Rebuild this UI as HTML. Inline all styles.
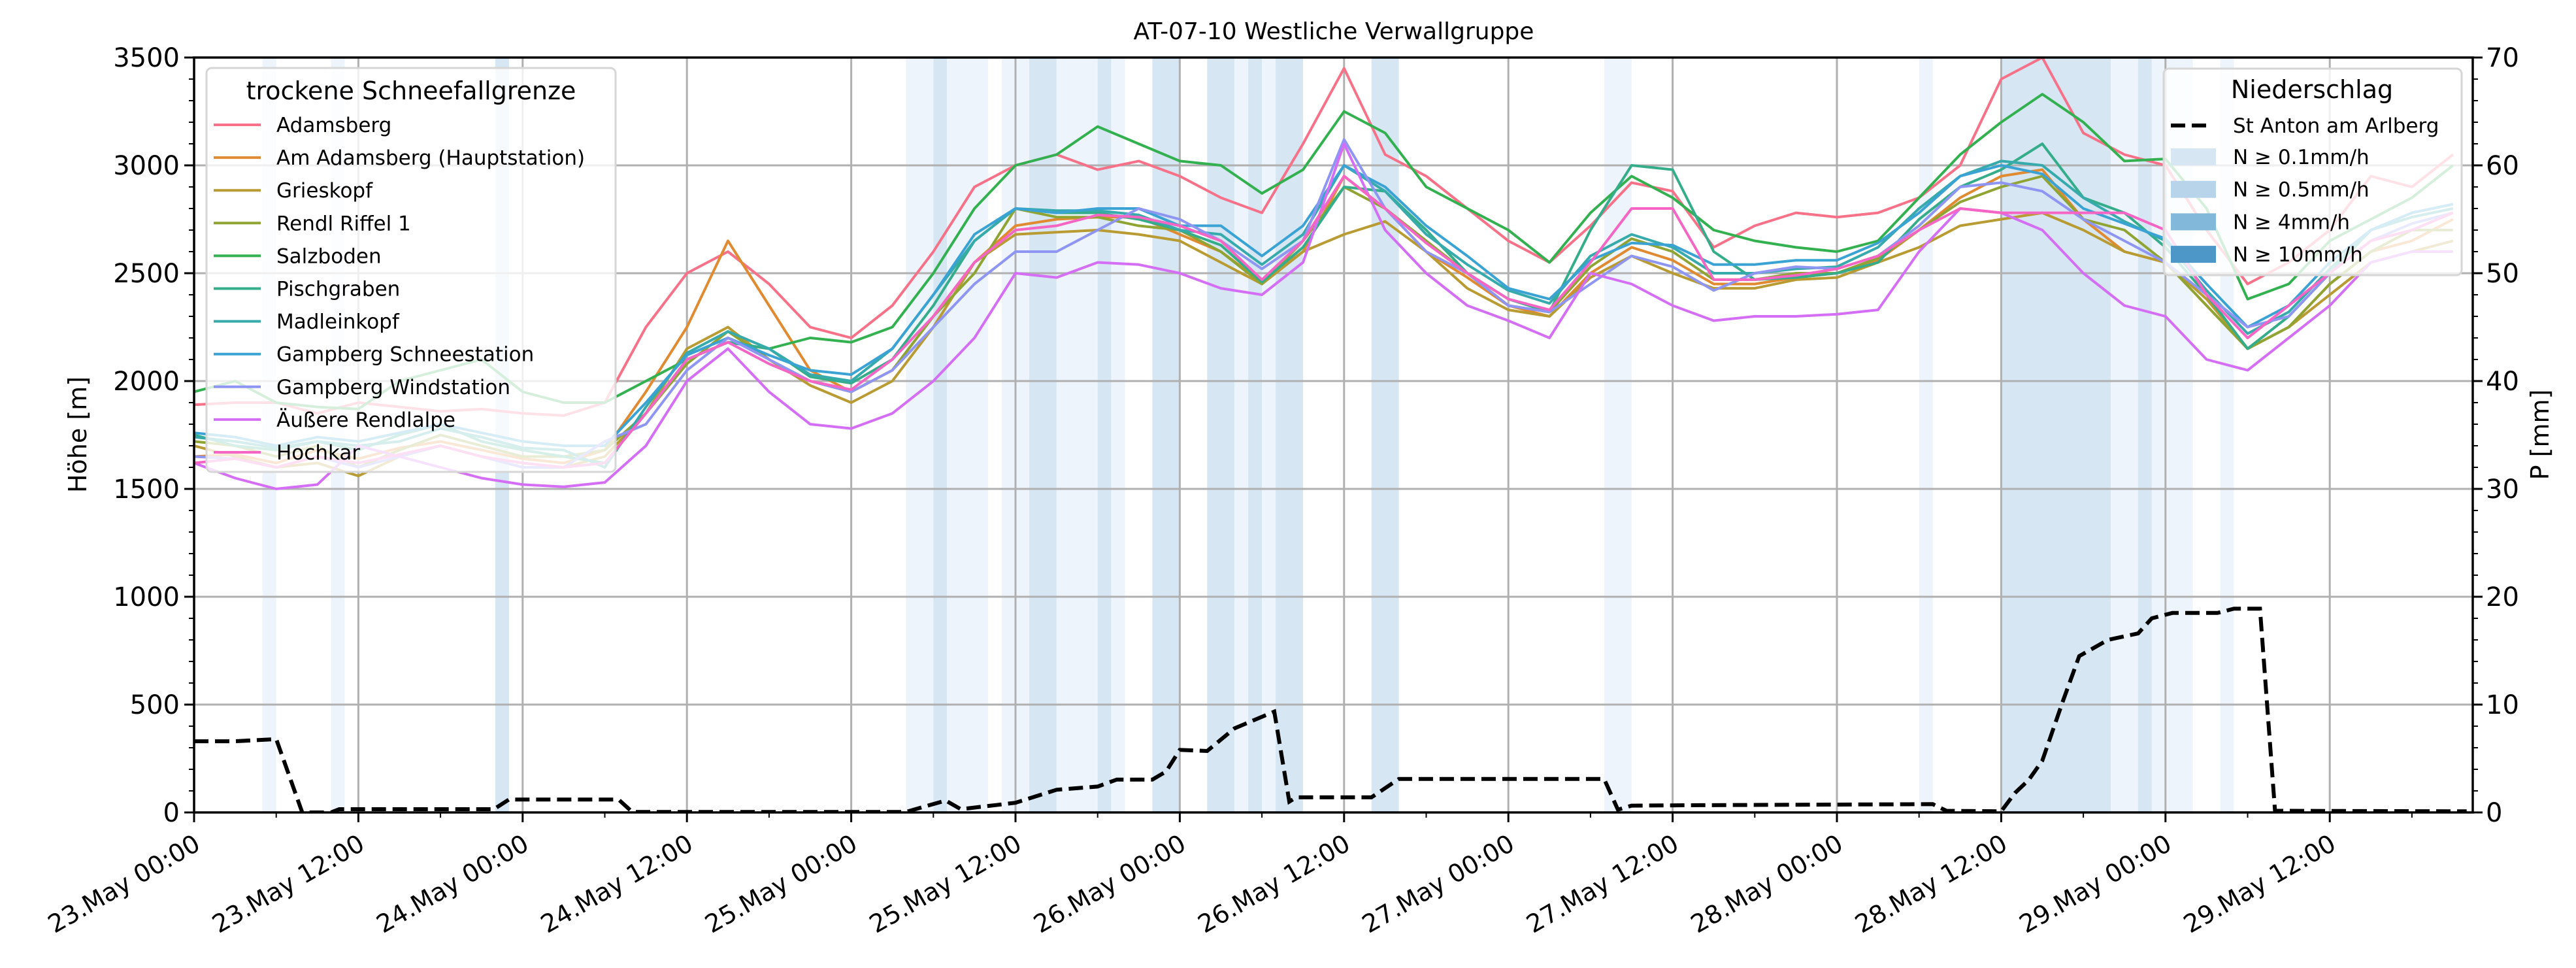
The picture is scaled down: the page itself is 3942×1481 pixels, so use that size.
<!DOCTYPE html>
<html><head><meta charset="utf-8"><style>
html,body{margin:0;padding:0;background:#fff;}
svg{display:block;font-family:"DejaVu Sans","Liberation Sans",sans-serif;}
</style></head><body>
<svg id="chart" width="3942" height="1481" viewBox="0 0 3942 1481" xmlns="http://www.w3.org/2000/svg">
<defs><clipPath id="plotclip"><rect x="297" y="88" width="3487" height="1155"/></clipPath></defs>
<rect x="0" y="0" width="3942" height="1481" fill="#fff"/>
<g id="bands" clip-path="url(#plotclip)"></g>
<g id="grid"></g>
<g id="series" clip-path="url(#plotclip)"></g>
<g id="precip" clip-path="url(#plotclip)"></g>
<g id="axes"></g>
<text x="2041" y="60" font-size="36" text-anchor="middle">AT-07-10 Westliche Verwallgruppe</text>
<text x="0" y="0" font-size="38" text-anchor="middle" transform="translate(132,665) rotate(-90)">Höhe [m]</text>
<text x="0" y="0" font-size="38" text-anchor="middle" transform="translate(3900,665) rotate(-90)">P [mm]</text>
<g id="legend1"></g>
<g id="legend2"></g>
</svg>
<script>
const hours = [];
for (let h = 0; h <= 165; h += 3) hours.push(h);
const stationNames = ["Adamsberg","Am Adamsberg (Hauptstation)","Grieskopf","Rendl Riffel 1","Salzboden","Pischgraben","Madleinkopf","Gampberg Schneestation","Gampberg Windstation","Äußere Rendlalpe","Hochkar"];
const stationColors = ["#f77189","#e08a31","#b89b32","#90a434","#33b04f","#35ad8a","#37aaab","#3ba3d3","#8f95f2","#d46ff5","#f565c4"];
const adamsberg = [1890,1900,1900,1850,1900,1880,1860,1870,1850,1840,1900,2250,2500,2600,2450,2250,2200,2350,2600,2900,3000,3050,2980,3020,2950,2850,2780,3100,3450,3050,2950,2800,2650,2550,2720,2920,2880,2620,2720,2780,2760,2780,2850,3000,3400,3500,3150,3050,3000,2700,2450,2550,2700,2950,2900,3050];
const amAdamsberg = [1650,1660,1620,1680,1640,1690,1720,1680,1640,1620,1680,1950,2250,2650,2350,2050,1950,2050,2300,2550,2720,2750,2760,2760,2680,2600,2460,2600,2950,2800,2600,2480,2350,2300,2500,2620,2560,2450,2450,2480,2500,2560,2700,2850,2950,2980,2750,2600,2550,2350,2150,2250,2450,2600,2650,2750];
const grieskopf = [1700,1650,1600,1620,1560,1650,1700,1650,1600,1600,1650,1850,2150,2250,2100,1980,1900,2000,2250,2550,2680,2690,2700,2680,2650,2550,2450,2600,2680,2740,2600,2430,2330,2300,2480,2580,2500,2430,2430,2470,2480,2550,2620,2720,2750,2780,2700,2600,2550,2380,2150,2250,2400,2550,2600,2650];
const rendlRiffel = [1720,1700,1650,1700,1600,1680,1750,1700,1650,1650,1680,1850,2080,2230,2100,2000,1950,2050,2300,2500,2800,2760,2760,2720,2700,2600,2450,2650,2900,2800,2650,2500,2350,2320,2530,2660,2600,2470,2470,2500,2500,2570,2700,2830,2900,2950,2750,2700,2550,2350,2150,2250,2450,2600,2700,2700];
const salzboden = [1950,2000,1900,1880,1870,2000,2050,2100,1950,1900,1900,2000,2100,2180,2150,2200,2180,2250,2500,2800,3000,3050,3180,3100,3020,3000,2870,2980,3250,3150,2900,2800,2700,2550,2780,2950,2850,2700,2650,2620,2600,2650,2850,3050,3200,3330,3200,3020,3030,2800,2380,2450,2650,2750,2850,3000];
const pischgraben = [1750,1700,1680,1720,1680,1750,1800,1720,1680,1650,1620,1850,2100,2180,2150,2020,1990,2100,2350,2650,2800,2780,2780,2750,2700,2630,2460,2620,2900,2880,2700,2500,2380,2320,2700,3000,2980,2600,2470,2480,2500,2550,2750,2900,2980,3100,2850,2780,2620,2400,2150,2300,2500,2700,2780,2820];
const madleinkopf = [1740,1720,1690,1720,1700,1720,1780,1740,1690,1680,1600,1880,2130,2230,2150,2030,2000,2150,2400,2650,2800,2790,2790,2770,2700,2680,2540,2680,3000,2880,2680,2540,2420,2360,2580,2680,2620,2500,2500,2520,2530,2620,2800,2950,3020,3000,2850,2740,2650,2420,2220,2320,2520,2700,2760,2800];
const gampbergSchnee = [1760,1740,1700,1740,1720,1760,1800,1760,1720,1700,1700,1900,2120,2200,2120,2050,2030,2150,2400,2680,2800,2780,2800,2800,2720,2720,2580,2720,3000,2900,2720,2580,2430,2380,2560,2640,2630,2540,2540,2560,2560,2640,2780,2950,3000,2960,2800,2730,2660,2450,2250,2350,2550,2700,2780,2820];
const gampbergWind = [1650,1640,1600,1650,1600,1650,1700,1650,1600,1600,1720,1800,2050,2200,2100,2000,1950,2050,2250,2450,2600,2600,2700,2800,2750,2650,2520,2650,3120,2800,2600,2500,2350,2320,2450,2580,2530,2420,2500,2530,2520,2580,2720,2900,2920,2880,2750,2650,2550,2400,2250,2300,2500,2650,2730,2780];
const rendlalpe = [1620,1550,1500,1520,1700,1650,1600,1550,1520,1510,1530,1700,2000,2150,1950,1800,1780,1850,2000,2200,2500,2480,2550,2540,2500,2430,2400,2550,3100,2700,2500,2350,2280,2200,2500,2450,2350,2280,2300,2300,2310,2330,2600,2800,2780,2700,2500,2350,2300,2100,2050,2200,2350,2550,2600,2600];
const hochkar = [1620,1640,1600,1650,1620,1660,1700,1650,1620,1600,1620,1850,2100,2180,2080,2000,1960,2100,2300,2550,2700,2720,2770,2760,2720,2650,2470,2650,2950,2800,2640,2500,2380,2330,2550,2800,2800,2470,2470,2490,2520,2580,2700,2800,2780,2780,2780,2780,2700,2400,2200,2350,2500,2650,2700,2780];
const seriesValues = [adamsberg,amAdamsberg,grieskopf,rendlRiffel,salzboden,pischgraben,madleinkopf,gampbergSchnee,gampbergWind,rendlalpe,hochkar];
const precipHours = [0,3,6,7.9,10,10.6,21.9,23,31,32,52,54.9,56,60,63,66,67.4,70,71,72,74,76,78.9,80,80.5,86,88,103,104,105,110,127,128,132,133,134,135,136.5,137.7,139.8,142,143,144.5,147.8,149,150.9,152,166];
const precipValues = [6.6,6.6,6.8,0,0,0.3,0.3,1.2,1.2,0.05,0.05,1.1,0.3,0.9,2.1,2.4,3.05,3.05,3.8,5.8,5.7,7.8,9.35,1.0,1.4,1.4,3.1,3.1,0.26,0.63,0.67,0.77,0.15,0.1,1.8,3.0,4.8,10.3,14.5,16.0,16.6,18.0,18.5,18.5,18.9,18.9,0.15,0.1];
const bandStart = [5,10,22,52,54,55,59,61,63,66,67,70,74,76,77,78,79,86,103,126,132,140,142,143,148];
const bandEnd   = [6,11,23,54,55,58,61,63,66,67,68,72,76,77,78,79,81,88,105,127,140,142,143,146,149];
const bandLevel = [1,1,2,1,2,1,1,2,1,2,1,2,2,1,2,1,2,2,1,1,2,1,2,1,1];
const xTickLabels = ["23.May 00:00","23.May 12:00","24.May 00:00","24.May 12:00","25.May 00:00","25.May 12:00","26.May 00:00","26.May 12:00","27.May 00:00","27.May 12:00","28.May 00:00","28.May 12:00","29.May 00:00","29.May 12:00"];
const yTicks = [0,500,1000,1500,2000,2500,3000,3500];
const y2Ticks = [0,10,20,30,40,50,60,70];

const L=297,R=3784,T=88,B=1243;
const XMAX=(R-L)/20.95;
const xs=h=>L+h/XMAX*(R-L);
const ys=v=>B-v/3500*(B-T);
const y2s=v=>B-v/70*(B-T);
const NS="http://www.w3.org/2000/svg";
function mk(tag,attrs,parent){const e=document.createElementNS(NS,tag);for(const k in attrs)e.setAttribute(k,attrs[k]);parent.appendChild(e);return e;}

const gb=document.getElementById('bands');
bandStart.forEach((s,i)=>{
  const r=mk('rect',{x:xs(s),y:T,width:xs(bandEnd[i])-xs(s),height:B-T,fill:bandLevel[i]===2?'#d6e6f3':'#eef4fb'},gb);
  
  
});
const gg=document.getElementById('grid');
for(let i=0;i<xTickLabels.length;i++){const x=xs(i*12);mk('line',{x1:x,x2:x,y1:T,y2:B,stroke:'#b0b0b0','stroke-width':3},gg);}
yTicks.forEach(v=>{mk('line',{x1:L,x2:R,y1:ys(v),y2:ys(v),stroke:'#b0b0b0','stroke-width':3},gg);});

const gs=document.getElementById('series');
seriesValues.forEach((arr,si)=>{
  const n=Math.min(arr.length,hours.length);
  let d='';for(let i=0;i<n;i++)d+=(i?'L':'M')+xs(hours[i]).toFixed(1)+','+ys(arr[i]).toFixed(1);
  const p=mk('path',{d:d,fill:'none',stroke:stationColors[si],'stroke-width':4,'stroke-linejoin':'round'},gs);
  
  
});
const gp=document.getElementById('precip');
{let d='';precipHours.forEach((h,i)=>{d+=(i?'L':'M')+xs(h).toFixed(1)+','+y2s(precipValues[i]).toFixed(1);});
 const p=mk('path',{d:d,fill:'none',stroke:'#000','stroke-width':6,'stroke-dasharray':'22,10'},gp);
 
 }

const ga=document.getElementById('axes');
mk('rect',{x:L,y:T,width:R-L,height:B-T,fill:'none',stroke:'#000','stroke-width':3.5},ga);
for(let v=0;v<=3500;v+=100){const y=ys(v);const maj=v%500===0;mk('line',{x1:L,x2:L-(maj?15:8),y1:y,y2:y,stroke:'#000','stroke-width':maj?3:2},ga);}
yTicks.forEach(v=>{const t=mk('text',{x:L-22,y:ys(v)+14,'font-size':40,'text-anchor':'end'},ga);t.textContent=v;
 
 });
for(let v=0;v<=70;v+=2){const y=y2s(v);const maj=v%10===0;mk('line',{x1:R,x2:R+(maj?15:8),y1:y,y2:y,stroke:'#000','stroke-width':maj?3:2},ga);}
y2Ticks.forEach(v=>{const t=mk('text',{x:R+20,y:y2s(v)+14,'font-size':40,'text-anchor':'start'},ga);t.textContent=v;
 
 });
for(let h=0;h<=XMAX;h+=6){const x=xs(h);const maj=h%12===0;mk('line',{x1:x,x2:x,y1:B,y2:B+(maj?15:8),stroke:'#000','stroke-width':maj?3:2},ga);}
xTickLabels.forEach((lab,i)=>{const x=xs(i*12)-2,y=1274;
 const t=mk('text',{x:x,y:y,'font-size':38,'text-anchor':'end','dominant-baseline':'hanging',transform:`rotate(-30 ${x} ${y})`},ga);t.textContent=lab;
 
 });

const l1=document.getElementById('legend1');
mk('rect',{x:316,y:104,width:626,height:618,rx:8,fill:'rgba(255,255,255,0.8)',stroke:'#d6d6d6','stroke-width':3},l1);
{const t=mk('text',{x:629,y:152,'font-size':38,'text-anchor':'middle'},l1);t.textContent='trockene Schneefallgrenze';}
stationNames.forEach((nm,i)=>{const y=191+i*50.1;
 const ln=mk('line',{x1:327,x2:399,y1:y,y2:y,stroke:stationColors[i],'stroke-width':4},l1);
 
 
 const t=mk('text',{x:423,y:y+11,'font-size':31},l1);t.textContent=nm;
 
 });

const l2=document.getElementById('legend2');
mk('rect',{x:3311,y:105,width:456,height:316,rx:8,fill:'rgba(255,255,255,0.8)',stroke:'#d6d6d6','stroke-width':3},l2);
{const t=mk('text',{x:3538,y:150,'font-size':38,'text-anchor':'middle'},l2);t.textContent='Niederschlag';}
mk('line',{x1:3322,x2:3382,y1:192,y2:192,stroke:'#000','stroke-width':6,'stroke-dasharray':'22,10'},l2);
{const t=mk('text',{x:3417,y:203,'font-size':31},l2);t.textContent='St Anton am Arlberg';}
const patchColors=['#d6e6f3','#b8d4ea','#82b8d9','#4d96c8'];
const patchLabels=['N ≥ 0.1mm/h','N ≥ 0.5mm/h','N ≥ 4mm/h','N ≥ 10mm/h'];
patchLabels.forEach((lab,i)=>{const y=240+i*49.7;
 const r=mk('rect',{x:3322,y:y-13,width:69,height:26,fill:patchColors[i]},l2);
 
 
 const t=mk('text',{x:3417,y:y+11,'font-size':31},l2);t.textContent=lab;
 
 });
</script>
</body></html>
